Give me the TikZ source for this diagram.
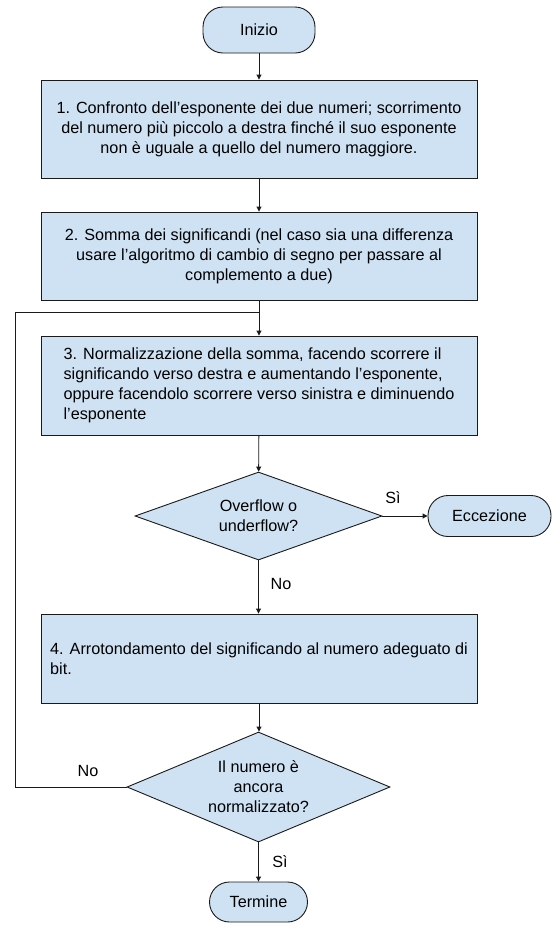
\documentclass[tikz,border=0pt]{standalone}
\usepackage{fontspec}
\setmainfont{Liberation Sans}
\usetikzlibrary{shapes.geometric,arrows.meta}
\definecolor{boxfill}{HTML}{CFE2F3}
\definecolor{edge}{HTML}{1A1A1A}
\begin{document}
\begin{tikzpicture}[x=1pt,y=-1pt,
  every node/.style={font=\fontsize{16.2}{20}\selectfont, text=black},
  term/.style={draw=edge, fill=boxfill, rounded corners=20pt, line width=0.9pt, inner sep=0pt},
  proc/.style={draw=edge, fill=boxfill, line width=0.9pt, minimum width=436pt, inner sep=0pt, align=center},
  decis/.style={draw=edge, fill=boxfill, diamond, line width=0.9pt, inner sep=0pt, align=center},
  conn/.style={draw=edge, line width=0.9pt},
  arr/.style={conn, -{Triangle[length=5pt,width=5pt]}},
  lbl/.style={inner sep=0pt}]
\useasboundingbox (0,0) rectangle (560,930);
\node[term, minimum width=112pt, minimum height=46pt] (start) at (259,30) {Inizio};
\node[proc, minimum height=98pt] (b1) at (259,129) {1. Confronto dell’esponente dei due numeri; scorrimento\\del numero più piccolo a destra finché il suo esponente\\non è uguale a quello del numero maggiore.};
\node[proc, minimum height=88pt] (b2) at (259,256) {2. Somma dei significandi (nel caso sia una differenza\\usare l’algoritmo di cambio di segno per passare al\\complemento a due)};
\node[proc, minimum height=99pt, align=left] (b3) at (259,385.5) {3. Normalizzazione della somma, facendo scorrere il\\significando verso destra e aumentando l’esponente,\\oppure facendolo scorrere verso sinistra e diminuendo\\l’esponente};
\node[proc, minimum height=89pt, align=left] (b4) at (259,658.5) {4. Arrotondamento del significando al numero adeguato di\\bit.};
\node[decis, aspect=2.8, minimum width=247pt, minimum height=88pt] (d1) at (258.5,516) {Overflow o\\underflow?};
\node[term, minimum width=123pt, minimum height=41pt] (exc) at (489.5,516) {Eccezione};
\node[decis, aspect=2.4, minimum width=263pt, minimum height=110pt] (d2) at (258.5,787) {Il numero è\\ancora\\normalizzato?};
\node[term, minimum width=98pt, minimum height=40pt] (stop) at (258.5,902) {Termine};
\coordinate (join) at (259,312);
\coordinate (lft) at (15,312);
\draw[arr] (start) -- (b1);
\draw[arr] (b1) -- (b2);
\draw[conn] (b2.south) -- (join);
\draw[arr] (join) -- (b3.north);
\draw[arr] (b3) -- (d1);
\draw[arr] (d1.east) -- (exc.west);
\draw[arr] (d1.south) -- (d1.south |- b4.north);
\draw[arr] (b4.south) -- (b4.south |- d2.north);
\draw[arr] (d2.south) -- (d2.south |- stop.north);
\draw[conn] (d2.west) -| (lft) -- (join);
\node[lbl] (s1) at (393,498) {Sì};
\node[lbl] (n1) at (281,584) {No};
\node[lbl] (n2) at (88,771) {No};
\node[lbl] (s2) at (280,862) {Sì};
\end{tikzpicture}
\end{document}
